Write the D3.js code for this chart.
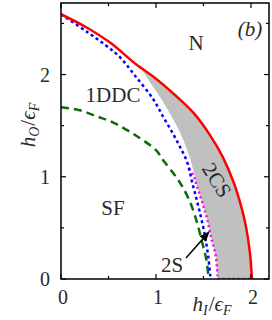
<!DOCTYPE html>
<html>
<head>
<script src="https://cdn.jsdelivr.net/npm/d3@7"></script>
<style>
  body { margin: 0; background: #fff; }
  text { font-family: "Liberation Serif", "DejaVu Serif", serif; fill: #2a2a2a; }
</style>
</head>
<body>
<svg id="chart" width="272" height="320"></svg>
<script>
// phase boundaries, [h_I, h_O]
const redCurve = [[0,2.59],[0.27,2.46],[0.52,2.31],[0.79,2.10],[1.0,1.96],[1.2,1.80],[1.4,1.62],
  [1.56,1.42],[1.70,1.20],[1.82,0.94],[1.90,0.70],[1.95,0.50],[1.99,0.25],[2.01,0]];
const blueCurve = [[0,2.59],[0.27,2.42],[0.48,2.28],[0.62,2.17],[0.77,2.0],[0.97,1.76],[1.08,1.58],
  [1.18,1.42],[1.26,1.28],[1.33,1.14],[1.38,0.95],[1.43,0.77],[1.48,0.58],[1.52,0.40],[1.55,0.22],[1.575,0]];
const greenCurve = [[0,1.68],[0.2,1.65],[0.38,1.59],[0.55,1.53],[0.76,1.42],[1.0,1.26],[1.07,1.17],
  [1.21,1.0],[1.28,0.9],[1.36,0.75],[1.43,0.56],[1.48,0.38],[1.53,0.19],[1.555,0]];
const magentaCurve = [[1.35,1.08],[1.40,1.0],[1.42,0.94],[1.48,0.77],[1.51,0.68],[1.54,0.58],
  [1.58,0.41],[1.63,0.22],[1.65,0]];
const magentaBase = [[1.65,0],[2.01,0]];
// inner edge of the shaded 2CS band (outer edge is the red curve)
const band2CSInner = [[0.86,2.04],[0.94,1.92],[1.06,1.755],[1.16,1.6],[1.24,1.46],[1.30,1.33],
  [1.36,1.18],[1.40,1.04],[1.42,0.94],[1.48,0.77],[1.51,0.68],[1.54,0.58],[1.58,0.41],[1.63,0.22],[1.65,0]];

const xTicks = [0, 0.5, 1, 1.5, 2];
const yTicks = [0, 0.5, 1, 1.5, 2, 2.5];
const xDomain = [0, 2.19], yDomain = [0, 2.7];

const margin = {left: 61, right: 3, top: 3, bottom: 41};
const width = 272, height = 320;

const svg = d3.select("#chart");

const x = d3.scaleLinear().domain(xDomain).range([margin.left, width - margin.right]);
const y = d3.scaleLinear().domain(yDomain).range([height - margin.bottom, margin.top]);

svg.append("defs").append("clipPath").attr("id", "clip")
   .append("rect")
   .attr("x", margin.left).attr("y", margin.top)
   .attr("width", x.range()[1] - x.range()[0])
   .attr("height", y.range()[0] - y.range()[1]);

const line = d3.line().x(d => x(d[0])).y(d => y(d[1])).curve(d3.curveCatmullRom.alpha(0.5));
const straight = d3.line().x(d => x(d[0])).y(d => y(d[1]));

const plot = svg.append("g").attr("clip-path", "url(#clip)");

// shaded band: inner edge down, then red back up
const redPart = redCurve.filter(d => d[1] < 2.0).slice().reverse();
plot.append("path")
    .attr("d", straight(band2CSInner.concat(redPart)) + "Z")
    .attr("fill", "#c0c0c0");

plot.append("path").attr("d", line(greenCurve))
    .attr("fill", "none").attr("stroke", "#0b6b0b").attr("stroke-width", 2.5)
    .attr("stroke-dasharray", "8,5");
plot.append("path").attr("d", line(magentaCurve))
    .attr("fill", "none").attr("stroke", "#ff00ff").attr("stroke-width", 2.5)
    .attr("stroke-dasharray", "2,3");
plot.append("path").attr("d", straight(magentaBase))
    .attr("fill", "none").attr("stroke", "#c000c0").attr("stroke-width", 2.5)
    .attr("stroke-dasharray", "2,3");
plot.append("path").attr("d", line(blueCurve))
    .attr("fill", "none").attr("stroke", "#0000ff").attr("stroke-width", 2.5)
    .attr("stroke-dasharray", "3,3");
plot.append("path").attr("d", line(redCurve))
    .attr("fill", "none").attr("stroke", "#ff0000").attr("stroke-width", 2.5);

// frame and inward ticks on all four sides
const tickLen = v => Number.isInteger(v) ? 5 : 3;
const axes = svg.append("g").attr("stroke", "#000").attr("stroke-width", 1.2);
axes.append("rect")
    .attr("x", x.range()[0]).attr("y", y.range()[1])
    .attr("width", x.range()[1] - x.range()[0])
    .attr("height", y.range()[0] - y.range()[1])
    .attr("fill", "none").attr("stroke-width", 1.5);
xTicks.forEach(v => {
  axes.append("line").attr("x1", x(v)).attr("x2", x(v))
      .attr("y1", y.range()[0]).attr("y2", y.range()[0] - tickLen(v));
  axes.append("line").attr("x1", x(v)).attr("x2", x(v))
      .attr("y1", y.range()[1]).attr("y2", y.range()[1] + tickLen(v));
});
yTicks.forEach(v => {
  axes.append("line").attr("y1", y(v)).attr("y2", y(v))
      .attr("x1", x.range()[0]).attr("x2", x.range()[0] + tickLen(v));
  axes.append("line").attr("y1", y(v)).attr("y2", y(v))
      .attr("x1", x.range()[1]).attr("x2", x.range()[1] - tickLen(v));
});

// tick labels (integers only)
const fs = 20, fsLabel = 21;
svg.append("g").selectAll("text").data(xTicks.filter(Number.isInteger)).join("text")
   .attr("x", d => x(d) + 2).attr("y", 304)
   .attr("text-anchor", "middle").attr("font-size", fs).text(d => d);
svg.append("g").selectAll("text").data(yTicks.filter(Number.isInteger)).join("text")
   .attr("x", 50).attr("y", d => y(d)).attr("dy", "0.35em")
   .attr("text-anchor", "end").attr("font-size", fs).text(d => d);

// axis titles
function ratioLabel(sel, sub) {
  sel.append("tspan").attr("font-style", "italic").text("h");
  sel.append("tspan").attr("font-style", "italic").attr("font-size", 14).attr("dy", 4).text(sub);
  sel.append("tspan").attr("dy", -4).attr("dx", 1).text("/");
  sel.append("tspan").attr("font-style", "italic").text("ϵ");
  sel.append("tspan").attr("font-style", "italic").attr("font-size", 14).attr("dy", 4).text("F");
}
svg.append("text").attr("x", 212).attr("y", 311).attr("text-anchor", "middle")
   .attr("font-size", fsLabel).call(ratioLabel, "I");
svg.append("text").attr("transform", "translate(35,125) rotate(-90)").attr("text-anchor", "middle")
   .attr("font-size", fsLabel).call(ratioLabel, "O");

// region labels
svg.append("text").attr("x", 196).attr("y", 50).attr("text-anchor", "middle").attr("font-size", fsLabel).text("N");
svg.append("text").attr("x", 250).attr("y", 36).attr("text-anchor", "middle").attr("font-size", fsLabel)
   .attr("font-style", "italic").text("(b)");
svg.append("text").attr("x", 113).attr("y", 102).attr("text-anchor", "middle").attr("font-size", fsLabel).text("1DDC");
svg.append("text").attr("x", 113).attr("y", 215).attr("text-anchor", "middle").attr("font-size", fsLabel).text("SF");
svg.append("text").attr("transform", "translate(217,180) rotate(58)").attr("text-anchor", "middle")
   .attr("dy", "0.35em").attr("font-size", fsLabel).text("2CS");
svg.append("text").attr("x", 172).attr("y", 272).attr("text-anchor", "middle").attr("font-size", fsLabel).text("2S");

// arrow to the 2S sliver
svg.append("defs").append("marker").attr("id", "head")
   .attr("viewBox", "0 0 10 10").attr("refX", 9).attr("refY", 5)
   .attr("markerWidth", 7).attr("markerHeight", 7).attr("orient", "auto")
   .append("path").attr("d", "M0,1 L10,5 L0,9 Z").attr("fill", "#000");
svg.append("line").attr("x1", 186).attr("y1", 258).attr("x2", 209).attr("y2", 232)
   .attr("stroke", "#000").attr("stroke-width", 1.5).attr("marker-end", "url(#head)");
</script>
</body>
</html>
